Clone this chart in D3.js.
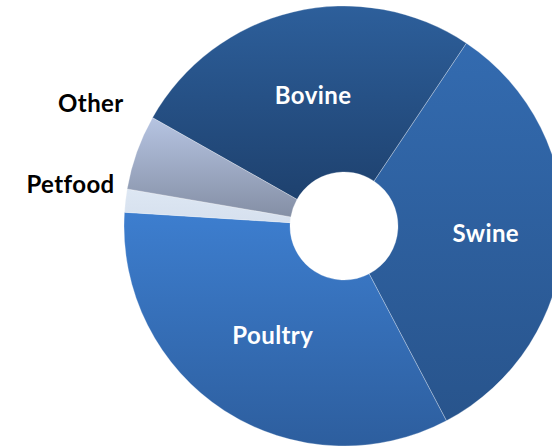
<!DOCTYPE html>
<html>
<head>
<meta charset="utf-8">
<script src="https://cdn.jsdelivr.net/npm/d3@7"></script>
<style>
  html, body { margin: 0; padding: 0; background: #ffffff; }
  svg { display: block; }
</style>
</head>
<body>
<svg id="chart" width="552" height="448"></svg>
<script>
// Share of feed demand by segment (%)
const categories = ["Bovine", "Swine", "Poultry", "Petfood", "Other"];
const shares = [26.2, 32.9, 33.7, 1.7, 5.5];
// Gradient stops per slice: top colour, bottom colour
const topColors = ["#2d5f9b", "#336bb0", "#3d7ecf", "#dde7f3", "#b6c4e2"];
const bottomColors = ["#1e416e", "#28548c", "#2d5e9e", "#d6e0ee", "#848fa5"];
const labelColors = ["#ffffff", "#ffffff", "#ffffff", "#000000", "#000000"];

const svg = d3.select("#chart");
const cx = 344, cy = 226;
const outerR = 220, innerR = 54;

const pie = d3.pie()
  .value(d => d.value)
  .sort(null)
  .startAngle(-60.5 * Math.PI / 180)
  .endAngle((360 - 60.5) * Math.PI / 180);

const data = categories.map((c, i) => ({ name: c, value: shares[i] }));
const arcs = pie(data);
const arc = d3.arc().innerRadius(innerR).outerRadius(outerR);

// One vertical gradient per slice, spanning the slice's own height
const defs = svg.append("defs");
arcs.forEach((a, i) => {
  const ys = [];
  const steps = 60;
  for (let k = 0; k <= steps; k++) {
    const t = a.startAngle + (a.endAngle - a.startAngle) * k / steps;
    ys.push(-outerR * Math.cos(t));
    ys.push(-innerR * Math.cos(t));
  }
  const g = defs.append("linearGradient")
    .attr("id", "grad" + i)
    .attr("gradientUnits", "userSpaceOnUse")
    .attr("x1", 0).attr("y1", d3.min(ys))
    .attr("x2", 0).attr("y2", d3.max(ys));
  g.append("stop").attr("offset", "0%").attr("stop-color", topColors[i]);
  g.append("stop").attr("offset", "100%").attr("stop-color", bottomColors[i]);
});

const ring = svg.append("g").attr("transform", `translate(${cx},${cy})`);

ring.selectAll("path.slice")
  .data(arcs)
  .join("path")
  .attr("class", "slice")
  .attr("d", arc)
  .attr("fill", (d, i) => `url(#grad${i})`)
  .attr("stroke", "rgba(255,255,255,0.35)")
  .attr("stroke-width", 0.8);

const fontFamily = "Lato, 'Open Sans', sans-serif";
const mid = d => (d.startAngle + d.endAngle) / 2;

// Label layout: radius along the bisector plus a small nudge for the
// crowded outside labels on the left
const labelLayout = {
  Bovine:  { r: 134, dx: 0, dy: 0,   anchor: "middle" },
  Swine:   { r: 142, dx: 0, dy: 0,   anchor: "middle" },
  Poultry: { r: 131, dx: 0, dy: 0,   anchor: "middle" },
  Petfood: { r: 236, dx: 5, dy: -14, anchor: "end" },
  Other:   { r: 236, dx: 2, dy: -43, anchor: "end" }
};

ring.selectAll("text.label")
  .data(arcs)
  .join("text")
  .attr("class", "label")
  .attr("x", d => labelLayout[d.data.name].r * Math.sin(mid(d)) + labelLayout[d.data.name].dx)
  .attr("y", d => -labelLayout[d.data.name].r * Math.cos(mid(d)) + labelLayout[d.data.name].dy)
  .attr("dy", "0.35em")
  .attr("text-anchor", d => labelLayout[d.data.name].anchor)
  .attr("font-family", fontFamily)
  .attr("font-weight", "bold")
  .attr("font-size", 24)
  .attr("letter-spacing", 0.4)
  .attr("fill", d => labelColors[d.index])
  .text(d => d.data.name);
</script>
</body>
</html>
